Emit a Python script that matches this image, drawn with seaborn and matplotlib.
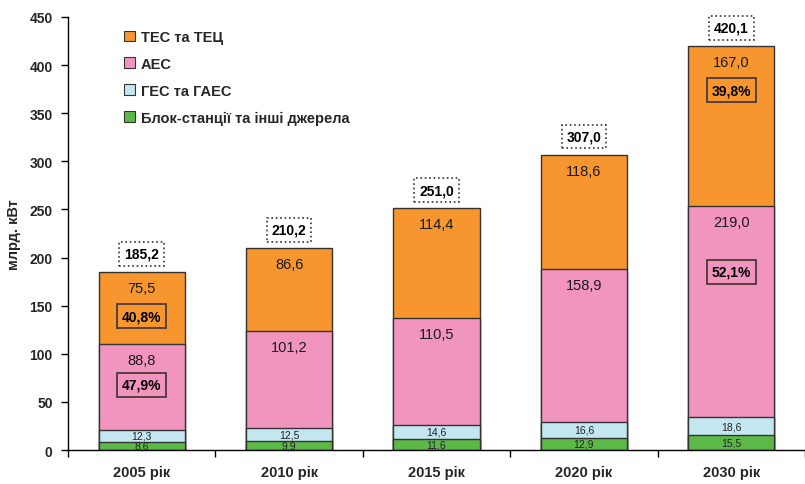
import matplotlib
matplotlib.use("Agg")
import matplotlib.pyplot as plt
import seaborn as sns
import pandas as pd
import numpy as np
from matplotlib.patches import Patch

sns.set_style("white")
plt.rcParams['font.family'] = ['Liberation Sans', 'DejaVu Sans']

categories = ["2005 рік", "2010 рік", "2015 рік", "2020 рік", "2030 рік"]
other = [8.6, 9.9, 11.6, 12.9, 15.5]          # Блок-станції та інші джерела
hydro = [12.3, 12.5, 14.6, 16.6, 18.6]        # ГЕС та ГАЕС
nuclear = [88.8, 101.2, 110.5, 158.9, 219.0]  # АЕС
thermal = [75.5, 86.6, 114.4, 118.6, 167.0]   # ТЕС та ТЕЦ
totals = ["185,2", "210,2", "251,0", "307,0", "420,1"]
series_names = ["ТЕС та ТЕЦ", "АЕС", "ГЕС та ГАЕС", "Блок-станції та інші джерела"]
share_cats = [0, 0, 4, 4]
share_series = ["thermal", "nuclear", "thermal", "nuclear"]
share_labels = ["40,8%", "47,9%", "39,8%", "52,1%"]
share_offsets_pt = [32, 29, 32, 47]

colors = {"thermal": "#F7952E", "nuclear": "#F195BF", "hydro": "#C4E6F1", "other": "#5CB947"}

df = pd.DataFrame({"cat": categories, "other": other, "hydro": hydro,
                   "nuclear": nuclear, "thermal": thermal})
df["c_other"] = df["other"]
df["c_hydro"] = df["c_other"] + df["hydro"]
df["c_nuclear"] = df["c_hydro"] + df["nuclear"]
df["c_thermal"] = df["c_nuclear"] + df["thermal"]

fig = plt.figure(figsize=(8.05, 4.85), dpi=100)
ax = fig.add_axes([0.0845, 0.070, 0.9155, 0.893])

W = 0.585
for key in ["thermal", "nuclear", "hydro", "other"]:
    sns.barplot(data=df, x="cat", y="c_" + key, color=colors[key], ax=ax,
                width=W, edgecolor="#333333", linewidth=1.0, saturation=1)

ax.set_xlim(-0.5, 4.5)
ax.set_ylim(0, 450)
ax.set_yticks(np.arange(0, 451, 50))
ax.set_ylabel("млрд. кВт", fontsize=10.5, fontweight="bold", labelpad=6)
ax.set_xlabel("")
for s in ["top", "right"]:
    ax.spines[s].set_visible(False)
for s in ["left", "bottom"]:
    ax.spines[s].set_color("black")
    ax.spines[s].set_linewidth(1.0)
ax.tick_params(axis="y", which="major", direction="out", length=5, width=1,
               color="black", labelsize=10, pad=6, left=True)
ax.set_xticks(np.arange(-0.5, 4.6, 1.0), minor=True)
ax.tick_params(axis="x", which="major", length=0, labelsize=10.5, pad=11)
ax.tick_params(axis="x", which="minor", direction="out", length=5, width=1,
               color="black", bottom=True)
for lab in ax.get_yticklabels() + ax.get_xticklabels():
    lab.set_fontweight("bold")

def fmt(v):
    return f"{v:.1f}".replace(".", ",")

for i in range(len(categories)):
    # small segments centred
    ax.text(i, other[i] / 2, fmt(other[i]), ha="center", va="center",
            fontsize=7.5, color="#222222")
    ax.text(i, df["c_other"][i] + hydro[i] / 2, fmt(hydro[i]), ha="center",
            va="center", fontsize=7.5, color="#222222")
    # larger segments, near top
    ax.annotate(fmt(nuclear[i]), (i, df["c_nuclear"][i]), xytext=(0, -11.5),
                textcoords="offset points", ha="center", va="center",
                fontsize=10.5, color="#1a1a1a")
    ax.annotate(fmt(thermal[i]), (i, df["c_thermal"][i]), xytext=(0, -11.5),
                textcoords="offset points", ha="center", va="center",
                fontsize=10.5, color="#1a1a1a")
    # totals
    ax.annotate(totals[i], (i, df["c_thermal"][i]), xytext=(0, 13),
                textcoords="offset points", ha="center", va="center",
                fontsize=10, fontweight="bold", color="black",
                bbox=dict(boxstyle="square,pad=0.35", fc="white", ec="#333333",
                          ls=":", lw=1.2))

for c, s, lab, off in zip(share_cats, share_series, share_labels, share_offsets_pt):
    top = df["c_" + s][c]
    ax.annotate(lab, (c, top), xytext=(0, -off), textcoords="offset points",
                ha="center", va="center", fontsize=10, fontweight="bold",
                color="black",
                bbox=dict(boxstyle="square,pad=0.35", fc="none", ec="#4a3a3a", lw=1.3))

handles = [Patch(facecolor=colors[k], edgecolor="#333333", linewidth=0.8)
           for k in ["thermal", "nuclear", "hydro", "other"]]
leg = ax.legend(handles, series_names, loc="upper left",
                bbox_to_anchor=(0.058, 1.0), frameon=False,
                handlelength=0.75, handleheight=0.75, handletextpad=0.4,
                labelspacing=0.88, prop={"size": 10.5, "weight": "bold"})

fig.savefig("out.png", dpi=100)
